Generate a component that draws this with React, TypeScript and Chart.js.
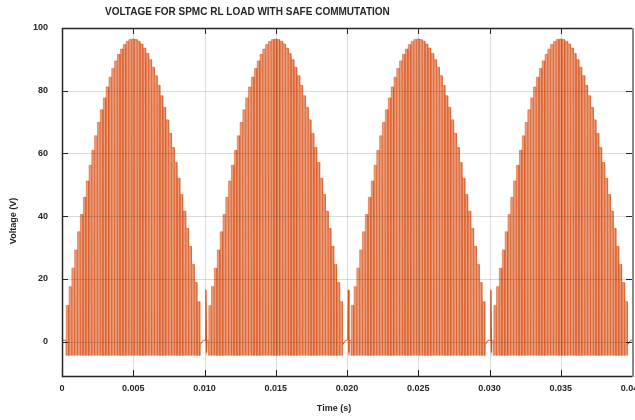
import React, { useEffect, useRef } from 'react';
import { Chart, registerables } from 'chart.js';

Chart.register(...registerables);

const TITLE = 'VOLTAGE FOR SPMC RL LOAD WITH SAFE COMMUTATION';
const X_LABEL = 'Time (s)';
const Y_LABEL = 'Voltage (V)';

const X_TICKS = [0, 0.005, 0.01, 0.015, 0.02, 0.025, 0.03, 0.035, 0.04];
const X_TICK_LABELS = ['0', '0.005', '0.010', '0.015', '0.020', '0.025', '0.030', '0.035', '0.040'];
const Y_TICKS = [0, 20, 40, 60, 80, 100];
const Y_TICK_LABELS = ['0', '20', '40', '60', '80', '100'];

// start time of each rectified half cycle (s)
const HALF_CYCLE_STARTS = [0, 0.01, 0.02, 0.03];
const HALF_CYCLE = 0.01;
// height of each PWM pulse inside one half cycle (V), read from the envelope
const PULSE_PEAKS = [
  11.5, 17.5, 23.4, 29.2, 35.0, 40.5, 46.0, 51.2, 56.2, 61.0,
  65.6, 69.9, 73.9, 77.7, 81.2, 84.3, 87.1, 89.5, 91.6, 93.3,
  94.7, 95.7, 96.3, 96.5, 96.3, 95.8, 94.9, 93.6, 91.9, 89.9,
  87.5, 84.8, 81.7, 78.4, 74.7, 70.7, 66.4, 61.9, 57.1, 52.1,
  46.9, 41.6, 36.1, 30.4, 24.6, 18.8, 12.7,
];
const PULSE_FIRST = 0.0003;
const PULSE_PERIOD = 0.0002;
const PULSE_ON = 0.00017;
const OFF_LEVEL = -4.5;
const DEAD_LEVEL = 0.4;
const TAIL_LEVEL = -1;
// commutation spikes
const SPIKE_TIMES = [0.0101, 0.0201, 0.0301];
const SPIKE_PEAK = 16.5;
const SPIKE_LOW = -3.5;

const Y_MIN = -11;
const Y_MAX = 100;

const LINE_COLOR = '#D95319';
const FILL_COLOR = 'rgba(217,83,25,0.58)';
const TEXT_COLOR = '#262626';
const FONT = '"Liberation Sans", Arial, sans-serif';

function buildPoints() {
  const pts: { x: number; y: number }[] = [{ x: 0, y: DEAD_LEVEL }];
  HALF_CYCLE_STARTS.forEach((t0, i) => {
    pts.push({ x: t0 + PULSE_FIRST - 0.00003, y: DEAD_LEVEL });
    PULSE_PEAKS.forEach((v, k) => {
      const ts = t0 + PULSE_FIRST + k * PULSE_PERIOD;
      pts.push(
        { x: ts, y: OFF_LEVEL },
        { x: ts, y: v },
        { x: ts + PULSE_ON, y: v },
        { x: ts + PULSE_ON, y: OFF_LEVEL }
      );
    });
    const tEnd = t0 + HALF_CYCLE;
    pts.push({ x: tEnd - 0.0003, y: TAIL_LEVEL }, { x: tEnd - 0.0001, y: DEAD_LEVEL }, { x: tEnd, y: DEAD_LEVEL });
    if (i < SPIKE_TIMES.length) {
      const s = SPIKE_TIMES[i];
      pts.push(
        { x: s - 0.00003, y: DEAD_LEVEL },
        { x: s, y: SPIKE_PEAK },
        { x: s + 0.00004, y: SPIKE_LOW },
        { x: s + 0.0001, y: DEAD_LEVEL }
      );
    }
  });
  return pts;
}

const isDead = (c: any) => Math.abs(c.p0.parsed.y) < 2 && Math.abs(c.p1.parsed.y) < 2;
const isSpike = (c: any) => c.p0.parsed.y === SPIKE_PEAK || c.p1.parsed.y === SPIKE_PEAK;

const framePlugin = {
  id: 'frameAndLabels',
  afterDatasetsDraw(chart: any) {
    const { ctx, chartArea, scales } = chart;
    const { left, right, top, bottom } = chartArea;
    const xs = scales.x;
    const ys = scales.y;
    ctx.save();
    // grid lines (drawn over data)
    ctx.strokeStyle = 'rgba(0,0,0,0.14)';
    ctx.lineWidth = 1;
    ctx.beginPath();
    X_TICKS.forEach((v) => {
      const px = Math.round(xs.getPixelForValue(v)) + 0.5;
      if (px <= left + 1 || px >= right - 1) return;
      ctx.moveTo(px, top);
      ctx.lineTo(px, bottom);
    });
    Y_TICKS.forEach((v) => {
      const py = Math.round(ys.getPixelForValue(v)) + 0.5;
      if (py <= top + 1 || py >= bottom - 1) return;
      ctx.moveTo(left, py);
      ctx.lineTo(right, py);
    });
    ctx.stroke();

    // inward tick marks
    ctx.strokeStyle = TEXT_COLOR;
    ctx.beginPath();
    X_TICKS.forEach((v) => {
      const px = Math.round(xs.getPixelForValue(v)) + 0.5;
      ctx.moveTo(px, bottom);
      ctx.lineTo(px, bottom - 6);
      ctx.moveTo(px, top);
      ctx.lineTo(px, top + 6);
    });
    Y_TICKS.forEach((v) => {
      const py = Math.round(ys.getPixelForValue(v)) + 0.5;
      ctx.moveTo(left, py);
      ctx.lineTo(left + 6, py);
      ctx.moveTo(right, py);
      ctx.lineTo(right - 6, py);
    });
    ctx.stroke();

    // frame
    ctx.strokeStyle = TEXT_COLOR;
    ctx.lineWidth = 1.5;
    ctx.beginPath();
    ctx.moveTo(right, top + 0.5);
    ctx.lineTo(left + 0.5, top + 0.5);
    ctx.lineTo(left + 0.5, bottom + 0.5);
    ctx.lineTo(right, bottom + 0.5);
    ctx.stroke();
    ctx.strokeStyle = '#8a8a8a';
    ctx.lineWidth = 2;
    ctx.beginPath();
    ctx.moveTo(right + 1, top);
    ctx.lineTo(right + 1, bottom + 1);
    ctx.stroke();

    // texts
    ctx.fillStyle = TEXT_COLOR;
    ctx.font = `bold 10px ${FONT}`;
    ctx.textAlign = 'left';
    ctx.textBaseline = 'middle';
    ctx.fillText(TITLE, 105, 12);

    ctx.font = `bold 9px ${FONT}`;
    ctx.textAlign = 'center';
    ctx.fillText(X_LABEL, 334, 409);

    ctx.translate(14, 221);
    ctx.rotate(-Math.PI / 2);
    ctx.fillText(Y_LABEL, 0, 0);
    ctx.restore();
  },
};

export default function App() {
  const ref = useRef<HTMLCanvasElement>(null);
  useEffect(() => {
    document.body.style.margin = '0';
    const canvas = ref.current;
    if (!canvas) return;
    const chart = new Chart(canvas, {
      type: 'line',
      data: {
        datasets: [
          {
            data: buildPoints(),
            borderColor: LINE_COLOR,
            borderWidth: 0.5,
            backgroundColor: FILL_COLOR,
            fill: { value: OFF_LEVEL },
            pointRadius: 0,
            tension: 0,
            segment: {
              backgroundColor: (c: any) => (isDead(c) ? 'rgba(0,0,0,0)' : undefined),
              borderWidth: (c: any) => (isSpike(c) ? 1.3 : isDead(c) ? 1 : undefined),
            },
          },
        ],
      },
      options: {
        animation: false,
        responsive: false,
        devicePixelRatio: 1,
        parsing: false,
        normalized: true,
        layout: { padding: { left: 0, right: 3, top: 28, bottom: 0 } },
        plugins: {
          legend: { display: false },
          tooltip: { enabled: false },
          title: { display: false },
        },
        scales: {
          x: {
            type: 'linear',
            min: 0,
            max: 0.04,
            afterBuildTicks: (scale: any) => {
              scale.ticks = X_TICKS.map((v) => ({ value: v }));
            },
            afterFit: (scale: any) => {
              scale.height = 44;
              scale.paddingLeft = 0;
              scale.paddingRight = 0;
            },
            ticks: {
              autoSkip: false,
              maxRotation: 0,
              padding: 7,
              color: TEXT_COLOR,
              font: { family: FONT, size: 9, weight: 'bold' },
              callback: (_v: any, i: number) => X_TICK_LABELS[i],
            },
            grid: { display: false, drawTicks: false },
            border: { display: false },
          },
          y: {
            type: 'linear',
            min: Y_MIN,
            max: Y_MAX,
            afterBuildTicks: (scale: any) => {
              scale.ticks = Y_TICKS.map((v) => ({ value: v }));
            },
            afterFit: (scale: any) => {
              scale.width = 62;
              scale.paddingTop = 0;
              scale.paddingBottom = 0;
            },
            ticks: {
              padding: 14,
              color: TEXT_COLOR,
              font: { family: FONT, size: 9, weight: 'bold' },
              callback: (_v: any, i: number) => Y_TICK_LABELS[i],
            },
            grid: { display: false, drawTicks: false },
            border: { display: false },
          },
        },
      },
      plugins: [framePlugin],
    } as any);
    return () => chart.destroy();
  }, []);
  return (
    <div style={{ width: 635, height: 420, position: 'relative' }}>
      <canvas ref={ref} width={635} height={420} style={{ width: 635, height: 420, display: 'block' }} />
    </div>
  );
}
